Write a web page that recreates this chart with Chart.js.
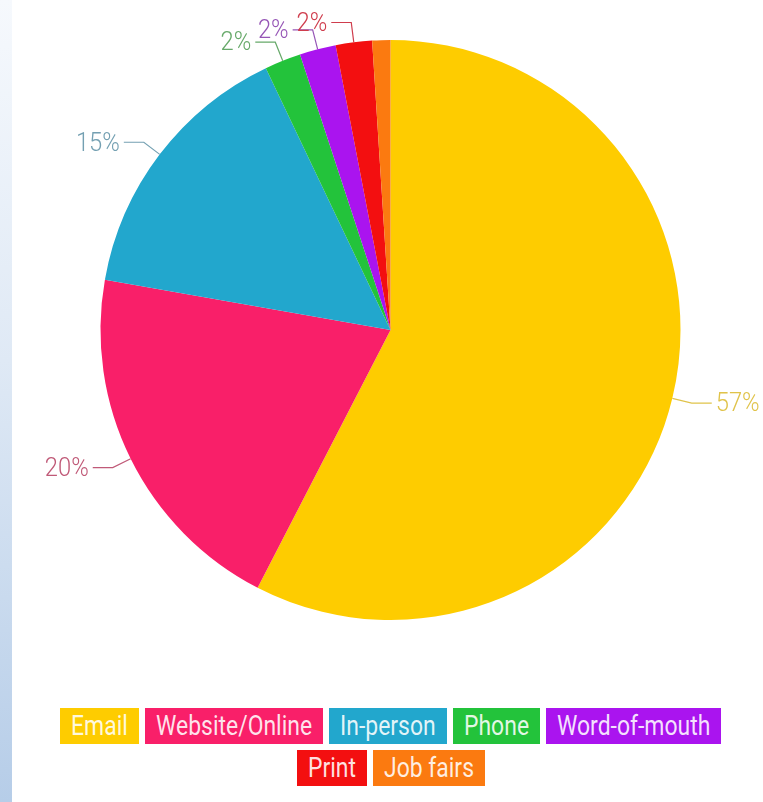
<!DOCTYPE html>
<html>
<head>
<meta charset="utf-8">
<script src="https://cdn.jsdelivr.net/npm/chart.js@4"></script>
<style>
  html, body { margin: 0; padding: 0; background: #fff; }
  body { width: 763px; height: 802px; position: relative; overflow: hidden; }
  .strip {
    position: absolute; left: 0; top: 0; width: 12px; height: 802px;
    background: linear-gradient(to bottom, #f6f9fd 0%, #dfe9f5 45%, #b6cde8 100%);
  }
  .chart-box { position: absolute; left: 18px; top: 0; width: 745px; height: 660px; }
  #legend { position: absolute; left: 30px; top: 708px; width: 721px; }
  #legend .row { display: flex; justify-content: center; gap: 6px; margin-bottom: 6px; }
  #legend .tag {
    display: inline-block; height: 36px; line-height: 36px; overflow: hidden;
    white-space: nowrap; position: relative;
  }
  #legend .tag b {
    position: absolute; left: 11px; top: 0; font-weight: normal;
    font-family: Roboto, "DejaVu Sans", sans-serif; font-size: 27px;
    color: rgba(255, 255, 255, 0.88); transform-origin: 0 50%;
  }
</style>
</head>
<body>
<div class="strip"></div>
<div class="chart-box"><canvas id="pieChart"></canvas></div>
<div id="legend"></div>
<script>
const labels = ['Email', 'Website/Online', 'In-person', 'Phone', 'Word-of-mouth', 'Print', 'Job fairs'];
const shares = [57, 20, 15, 2, 2, 2, 1];
const colors = ['#fecc00', '#f91f69', '#22a7cd', '#23c33b', '#aa14ef', '#f30f10', '#fb7a10'];
const labelColors = ['#e0c34a', '#c05a78', '#74a0b2', '#67a96a', '#9656b6', '#cf3d4d', '#d08040'];
const legendRows = [['Email', 'Website/Online', 'In-person', 'Phone', 'Word-of-mouth'], ['Print', 'Job fairs']];

// slices below this share get no outside label
const minLabelValue = 2;
// narrow look for the text
const labelSqueeze = 0.95;
const legendSqueeze = 0.85;

const outsideLabels = {
  id: 'outsideLabels',
  afterDatasetsDraw(chart) {
    const ctx = chart.ctx;
    const meta = chart.getDatasetMeta(0);
    ctx.save();
    ctx.font = '300 25px Roboto, "DejaVu Sans", sans-serif';
    ctx.textBaseline = 'middle';
    ctx.lineWidth = 1.2;
    meta.data.forEach((arc, i) => {
      const v = shares[i];
      if (v < minLabelValue) return;
      const p = arc.getProps(['x', 'y', 'startAngle', 'endAngle', 'outerRadius'], true);
      const mid = (p.startAngle + p.endAngle) / 2;
      const cos = Math.cos(mid), sin = Math.sin(mid);
      const x0 = p.x + cos * p.outerRadius;
      const y0 = p.y + sin * p.outerRadius;
      const x1 = p.x + cos * (p.outerRadius + 20);
      const y1 = p.y + sin * (p.outerRadius + 20);
      const dir = cos >= 0 ? 1 : -1;
      const x2 = x1 + dir * 20;
      ctx.strokeStyle = labelColors[i];
      ctx.beginPath();
      ctx.moveTo(x0, y0);
      ctx.lineTo(x1, y1);
      ctx.lineTo(x2, y1);
      ctx.stroke();

      ctx.fillStyle = labelColors[i];
      ctx.textAlign = dir > 0 ? 'left' : 'right';
      ctx.save();
      ctx.translate(x2 + dir * 4, y1 + 2);
      ctx.scale(labelSqueeze, 1);
      ctx.fillText(v + '%', 0, 0);
      ctx.restore();
    });
    ctx.restore();
  }
};

const data = {
  labels: labels,
  datasets: [{
    data: shares,
    backgroundColor: colors,
    borderWidth: 0
  }]
};

const config = {
  type: 'pie',
  data: data,
  options: {
    responsive: true,
    maintainAspectRatio: false,
    animation: false,
    layout: { padding: { top: 40, bottom: 40, left: 20, right: 20 } },
    plugins: {
      legend: { display: false },
      tooltip: { enabled: false }
    }
  },
  plugins: [outsideLabels]
};

const myChart = new Chart(document.getElementById('pieChart'), config);

// legend as coloured tags under the pie
const legendBox = document.getElementById('legend');
legendRows.forEach(names => {
  const row = document.createElement('div');
  row.className = 'row';
  legendBox.appendChild(row);
  names.forEach(name => {
    const i = labels.indexOf(name);
    const tag = document.createElement('span');
    tag.className = 'tag';
    tag.style.background = colors[i];
    const txt = document.createElement('b');
    txt.textContent = name;
    tag.appendChild(txt);
    row.appendChild(tag);
    const w = txt.getBoundingClientRect().width;
    txt.style.transform = 'scaleX(' + legendSqueeze + ')';
    tag.style.width = Math.round(w * legendSqueeze + 22) + 'px';
  });
});
</script>
</body>
</html>
